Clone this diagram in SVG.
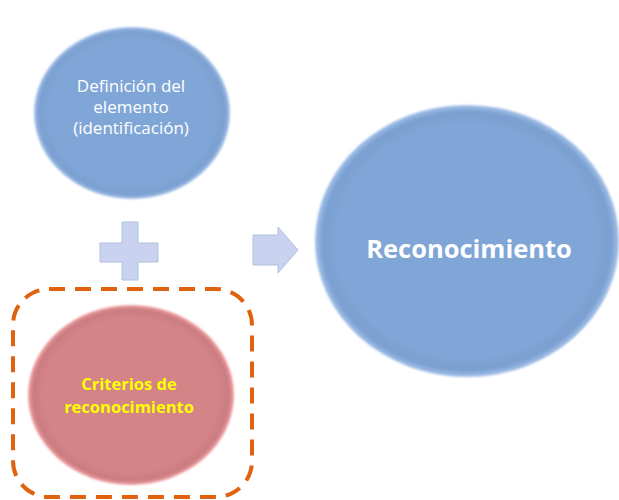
<svg xmlns="http://www.w3.org/2000/svg" width="619" height="500" viewBox="0 0 619 500">
<style>
.lbl{font-family:"Open Sans","Liberation Sans",sans-serif;text-anchor:middle}
.w{fill:#ffffff}
.y{fill:#ffff00;font-weight:bold}
.shape{fill:#c9d3ef;stroke:#b3bedf;stroke-width:1}
</style>
<defs>
<radialGradient id="gb" cx="0.5" cy="0.5" r="0.5">
<stop offset="0.86" stop-color="#7fa6d6"/>
<stop offset="0.95" stop-color="#7a9fd0"/>
<stop offset="1" stop-color="#a4c2ea"/>
</radialGradient>
<radialGradient id="gp" cx="0.5" cy="0.5" r="0.5">
<stop offset="0.86" stop-color="#d48387"/>
<stop offset="0.95" stop-color="#c97c80"/>
<stop offset="1" stop-color="#f3a0a3"/>
</radialGradient>
<filter id="sh" x="-10%" y="-10%" width="120%" height="120%">
<feGaussianBlur stdDeviation="1"/>
</filter>
</defs>
<rect width="619" height="500" fill="#ffffff"/>
<g id="node-definicion">
<ellipse cx="132" cy="113" rx="98" ry="86" fill="url(#gb)" filter="url(#sh)"/>
<text class="lbl w" font-size="17" x="131" y="92">Definición del</text>
<text class="lbl w" font-size="17" x="131" y="113">elemento</text>
<text class="lbl w" font-size="17" x="131" y="134">(identificación)</text>
</g>
<g id="node-plus">
<path class="shape" d="M122,222 H138 V243 H158 V262 H138 V280 H122 V262 H100 V243 H122 Z"/>
</g>
<g id="node-arrow">
<path class="shape" d="M253,235 H278 V227 L298,250 L278,273 V265 H253 Z"/>
</g>
<g id="node-criterios-box">
<rect x="13" y="289" width="239" height="208" rx="36" ry="36" fill="none" stroke="#e0620f" stroke-width="4" stroke-dasharray="16,10"/>
</g>
<g id="node-criterios">
<ellipse cx="131" cy="395" rx="103" ry="90" fill="url(#gp)" filter="url(#sh)"/>
<text class="lbl y" font-size="16.5" x="129" y="390">Criterios de</text>
<text class="lbl y" font-size="16.5" x="129" y="413">reconocimiento</text>
</g>
<g id="node-reconocimiento">
<ellipse cx="467" cy="241" rx="152" ry="136" fill="url(#gb)" filter="url(#sh)"/>
<text class="lbl w" font-size="25.5" font-weight="bold" x="469" y="258">Reconocimiento</text>
</g>
<g id="connectors"></g>
</svg>
